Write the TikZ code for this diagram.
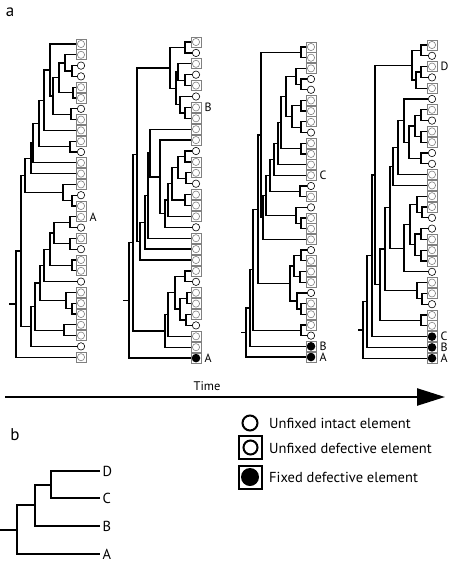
\documentclass[tikz,border=0pt]{standalone}
\usepackage{fontspec}
\setmainfont{PT Sans}
\usetikzlibrary{calc,positioning,arrows.meta}

\tikzset{
  branch/.style={line width=1.3pt},
  ui/.style={circle, draw, line width=0.6pt, minimum size=7.4pt, inner sep=0pt},
  ud/.style={rectangle, draw=black!50, line width=0.8pt, minimum size=10pt, inner sep=0pt,
    path picture={\draw[line width=0.6pt] (path picture bounding box.center) circle (3.6pt);}},
  fd/.style={rectangle, draw=black!50, line width=0.8pt, minimum size=10pt, inner sep=0pt,
    path picture={\fill (path picture bounding box.center) circle (4.3pt);}},
  lab/.style={font=\fontsize{12}{13}\selectfont, inner sep=0pt},
  panel/.style={font=\fontsize{17}{19}\selectfont, inner sep=0pt},
  legc/.style={circle, draw, line width=2pt, minimum size=15pt, inner sep=0pt},
  legd/.style={rectangle, draw, line width=2pt, minimum size=23pt, inner sep=0pt,
    path picture={\draw[line width=2pt] (path picture bounding box.center) circle (7pt);}},
  legf/.style={rectangle, draw, line width=2pt, minimum size=23pt, inner sep=0pt,
    path picture={\fill (path picture bounding box.center) circle (9pt);}},
  legtext/.style={font=\fontsize{14.5}{16}\selectfont, anchor=west, inner sep=0pt},
  blab/.style={font=\fontsize{14.5}{16}\selectfont, anchor=west, inner sep=2.5pt},
}

% one clade: name, x of the split, upper child, lower child
\newcommand\mkclade[4]{%
  \path ($(#3)!.5!(#4)$) coordinate (#1m);
  \coordinate (#1x) at (#2,0);
  \coordinate (#1) at (#1m -| #1x);
  \draw[branch] (#1) |- (#3) (#1) |- (#4);
}

\begin{document}
\begin{tikzpicture}[x=1pt,y=-1pt]
\useasboundingbox (0,0) rectangle (449,563);

\node[panel] (pa) at (10,12) {a};

% tree 1
\foreach \kind [count=\i] in {ud,ud,ui,ui,ud,ud,ui,ud,ud,ud,ui,ud,ud,ud,ui,ud,ud,ui,ud,ui,ud,ud,ui,ud,ud,ud,ud,ud,ui,ud}
  \node[\kind] (t1l\i) at (81,{44+10.8*(\i-1)}) {};
\foreach \nm/\xx/\ca/\cb in {c34/72/l3/l4, c234/65/l2/c34, c56/73/l5/l6, c26/59/c234/c56,
    c78/71/l7/l8, c28/53/c26/c78, k7/50/l1/c28, k6/44/k7/l9, c1011/70/l10/l11,
    k5/39/k6/c1011, k4/33/k5/l12, k3/31/k4/l13, c1516/72/l15/l16, c1416/63/l14/c1516,
    n2/25/k3/c1416, c1718/70/l17/l18, c1920/70/l19/l20, d6/54/c1718/c1920,
    c2122/72/l21/l22, d5/50/d6/c2122, d4/44/d5/l23, c2526/72/l25/l26, c2426/66/l24/c2526,
    d3/40/d4/c2426, c2728/64/l27/l28, d2/35/d3/c2728, d1/31/d2/l29, n1/21/n2/d1, r/16/n1/l30}
  {\mkclade{t1\nm}{\xx}{t1\ca}{t1\cb}}
\draw[branch] (t1r) -- +(-7,0);
\node[lab, right=3pt of t1l17] (t1A) {A};

% tree 2
\foreach \kind [count=\i] in {ud,ui,ud,ui,ud,ui,ud,ud,ud,ud,ui,ud,ud,ui,ud,ud,ud,ui,ud,ud,ud,ud,ui,ud,ud,ud,ui,ud,ud,fd}
  \node[\kind] (t2l\i) at (196,{42+10.9*(\i-1)}) {};
\foreach \nm/\xx/\ca/\cb in {c12/185/l1/l2, c45/185/l4/l5, c35/178/l3/c45, c78/185/l7/l8,
    c68/180/l6/c78, u2/176/c35/c68, u1/170/c12/u2, c1112/185/l11/l12, c1314/186/l13/l14,
    c1114/178/c1112/c1314, c1516/185/l15/l16, m7/172/c1114/c1516, m6/168/m7/l17,
    m6b/165/m6/l18, m5/160/l10/m6b, m4/150/l9/m5, m3/148/m4/l19, m2/145/m3/l20,
    m1/140/m2/l21, n2/137/u1/m1, c2223/185/l22/l23, c2425/187/l24/l25, c2627/186/l26/l27,
    w4/180/c2425/c2627, w3/175/c2223/w4, w2/168/w3/l28, w1/165/w2/l29, n1/133/n2/w1, r/129/n1/l30}
  {\mkclade{t2\nm}{\xx}{t2\ca}{t2\cb}}
\draw[branch] (t2r) -- +(-6,0);
\node[lab, right=3pt of t2l7] (t2B) {B};
\node[lab, right=3pt of t2l30] (t2A) {A};

% tree 3
\foreach \kind [count=\i] in {ud,ud,ud,ui,ui,ud,ud,ud,ui,ud,ud,ud,ud,ui,ud,ui,ud,ud,ud,ui,ud,ud,ud,ui,ud,ud,ud,ui,fd,fd}
  \node[\kind] (t3l\i) at (311,{47+10.69*(\i-1)}) {};
\foreach \nm/\xx/\ca/\cb in {c12/301/l1/l2, c45/301/l4/l5, c35/296/l3/c45, c67/301/l6/l7,
    c89/301/l8/l9, k1/292/c67/c89, k2/286/c35/k1, c1011/301/l10/l11, k3/281/k2/c1011,
    k4/278/k3/l12, k5/274/k4/l13, c1415/300/l14/l15, k6/270/k5/c1415, c1718/301/l17/l18,
    c1618/296/l16/c1718, k7/266/k6/c1618, n5/263/k7/l19, n4/261/c12/n5, c2021/301/l20/l21,
    c2223/300/l22/l23, g/294/c2021/c2223, c2526/301/l25/l26, e/297/l24/c2526, lc/290/g/e,
    n3/258/n4/lc, c2728/301/l27/l28, n2/253/n3/c2728, n1/250/n2/l29, r/246/n1/l30}
  {\mkclade{t3\nm}{\xx}{t3\ca}{t3\cb}}
\draw[branch] (t3r) -- +(-5,0);
\node[lab, right=3pt of t3l13] (t3C) {C};
\node[lab, right=3pt of t3l29] (t3B) {B};
\node[lab, right=3pt of t3l30] (t3A) {A};

% tree 4
\foreach \kind [count=\i] in {ud,ui,ud,ui,ud,ui,ud,ui,ud,ud,ui,ui,ud,ud,ud,ud,ui,ui,ud,ud,ud,ui,ud,ud,ui,ud,ud,fd,fd,fd}
  \node[\kind] (t4l\i) at (432,{45+10.8*(\i-1)}) {};
\foreach \nm/\xx/\ca/\cb in {c12/421/l1/l2, c34/421/l3/l4, c35/416/c34/l5, tp/412/c12/c35,
    c78/421/l7/l8, c910/421/l9/l10, u1/415/c78/c910, c1112/421/l11/l12, u2/409/u1/c1112,
    u3/404/l6/u2, u4/398/u3/l13, u5/393/u4/l14, c1617/422/l16/l17, c1517/417/l15/c1617,
    c1819/421/l18/l19, c2021/421/l20/l21, h1/415/c1819/c2021, h2/410/c1517/h1,
    g2/404/h2/l22, n6/390/u5/g2, c2425/422/l24/l25, g3/417/l23/c2425, n5/385/n6/g3,
    c2627/421/l26/l27, n4/380/n5/c2627, n3/375/tp/n4, n2/372/n3/l28, n1/367/n2/l29, r/363/n1/l30}
  {\mkclade{t4\nm}{\xx}{t4\ca}{t4\cb}}
\draw[branch] (t4r) -- +(-5,0);
\node[lab, right=3pt of t4l3] (t4D) {D};
\node[lab, right=3pt of t4l28] (t4C) {C};
\node[lab, right=3pt of t4l29] (t4B) {B};
\node[lab, right=3pt of t4l30] (t4A) {A};

% time axis
\coordinate (t0) at (5,397);
\coordinate (t9) at (445,397);
\draw[line width=2.4pt, -{Triangle[length=28pt,width=17pt]}] (t0) -- (t9);
\node[lab, font=\fontsize{12.5}{14}\selectfont] (time) at (207,386) {Time};

% legend
\node[legc] (lg1) at (250,423) {};
\node[legd] (lg2) at (250.5,447.5) {};
\node[legf] (lg3) at (250,477) {};
\node[legtext] (lt1) at (269,423) {Unfixed intact element};
\node[legtext] (lt2) at (269,448) {Unfixed defective element};
\node[legtext] (lt3) at (269,477) {Fixed defective element};

% panel b
\node[panel] (pb) at (15,435) {b};
\begin{scope}[branch/.style={line width=2pt}]
\foreach \nm/\yy in {D/471,C/498,B/526,A/554}
  \node[blab] (b\nm) at (100,\yy) {\nm};
\mkclade{bDC}{51}{bD}{bC}
\mkclade{bDCB}{35}{bDC}{bB}
\mkclade{br}{17}{bDCB}{bA}
\draw[branch] (br) -- +(-17,0);
\end{scope}
\end{tikzpicture}
\end{document}
